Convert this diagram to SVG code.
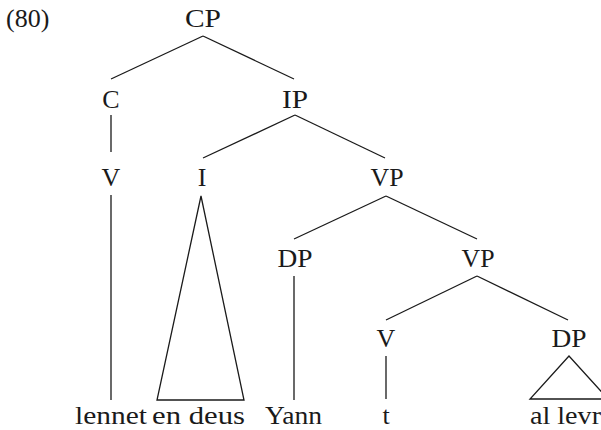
<svg xmlns="http://www.w3.org/2000/svg" width="601" height="430" viewBox="0 0 601 430">
  <style>
    text { font-family: "Liberation Serif", "Times New Roman", serif; font-size: 26px; fill: #1a1a1a; }
    .lbl { text-anchor: middle; }
    .edge { stroke: #1a1a1a; stroke-width: 1.3; fill: none; stroke-linecap: butt; }
  </style>
  <rect width="601" height="430" fill="#ffffff"/>

  <text id="exnum" x="6" y="27">(80)</text>

  <!-- branches -->
  <g id="connectors">
    <line class="edge" x1="203" y1="36" x2="111" y2="79"/>
    <line class="edge" x1="203" y1="36" x2="294" y2="79"/>
    <line class="edge" x1="111" y1="115" x2="111" y2="152"/>
    <line class="edge" x1="295" y1="115" x2="203" y2="158"/>
    <line class="edge" x1="295" y1="115" x2="385" y2="158"/>
    <line class="edge" x1="111" y1="195" x2="111" y2="400"/>
    <polygon class="edge" points="201,196 157,400 244,400"/>
    <line class="edge" x1="386" y1="196" x2="294" y2="239"/>
    <line class="edge" x1="386" y1="196" x2="477" y2="239"/>
    <line class="edge" x1="294" y1="276" x2="294" y2="400"/>
    <line class="edge" x1="477" y1="276" x2="386" y2="320"/>
    <line class="edge" x1="477" y1="276" x2="568" y2="320"/>
    <line class="edge" x1="386" y1="356" x2="386" y2="399"/>
    <polygon class="edge" points="569,356 530,399 608,399"/>
  </g>

  <!-- category labels -->
  <g id="n-CP"><text class="lbl" x="203" y="27" textLength="36" lengthAdjust="spacingAndGlyphs">CP</text></g>
  <g id="n-C"><text class="lbl" x="111" y="108">C</text></g>
  <g id="n-IP"><text class="lbl" x="295" y="108" textLength="26" lengthAdjust="spacingAndGlyphs">IP</text></g>
  <g id="n-V1"><text class="lbl" x="111" y="186">V</text></g>
  <g id="n-I"><text class="lbl" x="202" y="186">I</text></g>
  <g id="n-VP1"><text class="lbl" x="387" y="186" textLength="33" lengthAdjust="spacingAndGlyphs">VP</text></g>
  <g id="n-DP1"><text class="lbl" x="295" y="267" textLength="35" lengthAdjust="spacingAndGlyphs">DP</text></g>
  <g id="n-VP2"><text class="lbl" x="478" y="267" textLength="33" lengthAdjust="spacingAndGlyphs">VP</text></g>
  <g id="n-V2"><text class="lbl" x="386" y="347">V</text></g>
  <g id="n-DP2"><text class="lbl" x="569" y="347" textLength="35" lengthAdjust="spacingAndGlyphs">DP</text></g>

  <!-- terminal strings -->
  <g id="w-lennet"><text x="75" y="424" textLength="72" lengthAdjust="spacingAndGlyphs">lennet</text></g>
  <g id="w-endeus"><text x="152" y="424" textLength="93" lengthAdjust="spacingAndGlyphs">en deus</text></g>
  <g id="w-Yann"><text x="265" y="424" textLength="57" lengthAdjust="spacingAndGlyphs">Yann</text></g>
  <g id="w-t"><text class="lbl" x="386" y="424">t</text></g>
  <g id="w-allevr"><text x="530" y="424" textLength="71" lengthAdjust="spacingAndGlyphs">al levr</text></g>
</svg>
